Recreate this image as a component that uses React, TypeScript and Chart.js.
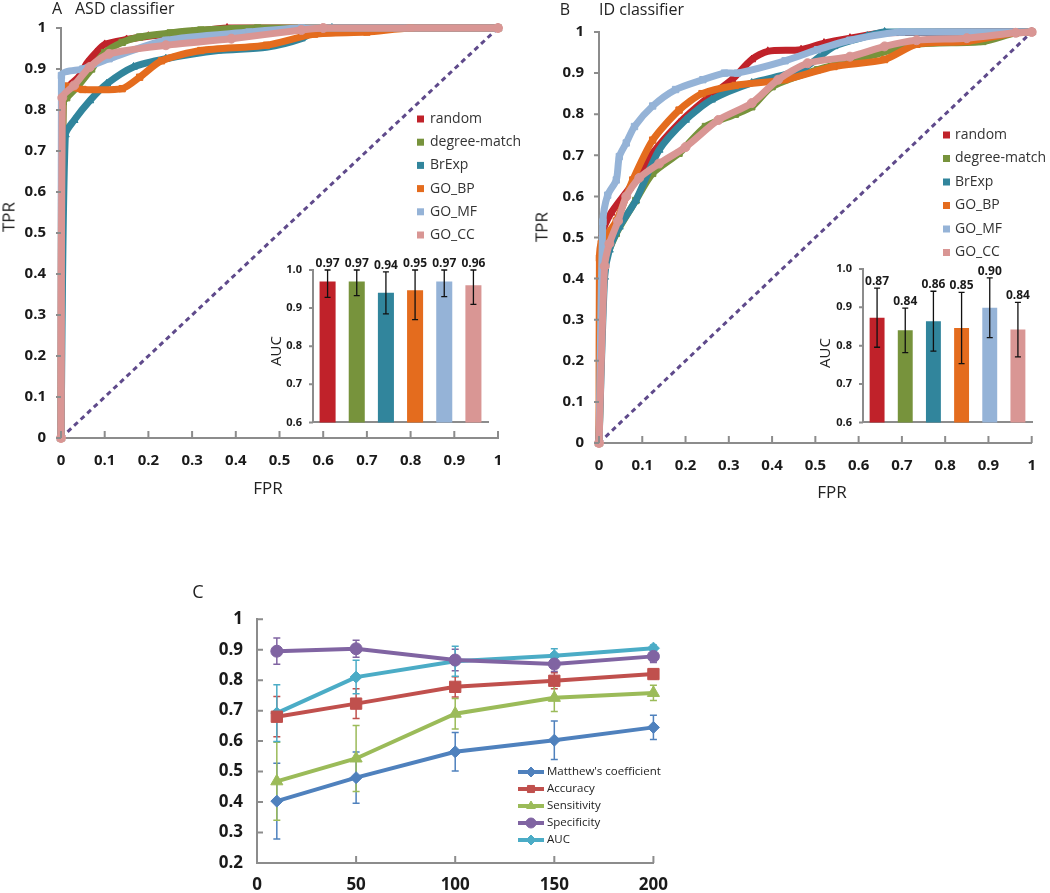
import React, { useEffect, useRef } from 'react';
import { Chart, registerables } from 'chart.js';
import { drawPoint } from 'chart.js/helpers';

Chart.register(...registerables);

const FONT = '"Open Sans", "DejaVu Sans", sans-serif';

// ---------- ROC series (FPR, TPR) ----------
const rocNames = ['random', 'degree-match', 'BrExp', 'GO_BP', 'GO_MF', 'GO_CC'];
const rocColors = ['#C0222A', '#77933C', '#31859C', '#E46C1E', '#95B3D7', '#D99694'];
const rocMarkers = ['triangle', 'rect', 'triangle', 'rect', 'rect', 'circle'];

const asdRandom = [[0, 0], [0.005, 0.83], [0.02, 0.86], [0.04, 0.88], [0.06, 0.915], [0.08, 0.94], [0.1, 0.96], [0.15, 0.972], [0.2, 0.98], [0.3, 0.99], [0.38, 1], [1, 1]];
const asdDegree = [[0, 0], [0.005, 0.82], [0.013, 0.83], [0.04, 0.86], [0.07, 0.9], [0.1, 0.94], [0.14, 0.965], [0.18, 0.978], [0.25, 0.988], [0.32, 0.995], [0.45, 1], [1, 1]];
const asdBrExp = [[0, 0], [0.01, 0.74], [0.03, 0.775], [0.066, 0.823], [0.105, 0.864], [0.166, 0.905], [0.24, 0.925], [0.36, 0.945], [0.47, 0.953], [0.55, 0.974], [0.585, 0.995], [0.62, 1], [1, 1]];
const asdGoBp = [[0, 0], [0.002, 0.855], [0.05, 0.85], [0.14, 0.852], [0.18, 0.88], [0.23, 0.92], [0.32, 0.945], [0.47, 0.958], [0.58, 0.985], [0.7, 0.99], [0.8, 1], [1, 1]];
const asdGoMf = [[0, 0], [0.001, 0.884], [0.05, 0.9], [0.11, 0.925], [0.24, 0.97], [0.43, 0.99], [0.55, 1], [1, 1]];
const asdGoCc = [[0, 0], [0.003, 0.83], [0.03, 0.86], [0.066, 0.905], [0.11, 0.937], [0.24, 0.958], [0.39, 0.974], [0.55, 0.995], [0.6, 1], [1, 1]];

const idRandom = [[0, 0], [0.009, 0.51], [0.028, 0.56], [0.07, 0.62], [0.124, 0.705], [0.185, 0.778], [0.246, 0.835], [0.307, 0.884], [0.353, 0.933], [0.39, 0.953], [0.467, 0.957], [0.52, 0.973], [0.58, 0.985], [0.66, 0.998], [1, 1]];
const idDegree = [[0, 0], [0.013, 0.43], [0.04, 0.51], [0.085, 0.59], [0.124, 0.656], [0.185, 0.705], [0.246, 0.77], [0.315, 0.8], [0.353, 0.818], [0.4, 0.867], [0.505, 0.908], [0.62, 0.94], [0.734, 0.97], [0.887, 0.977], [0.963, 0.998], [1, 1]];
const idBrExp = [[0, 0], [0.013, 0.404], [0.024, 0.47], [0.047, 0.526], [0.085, 0.59], [0.139, 0.713], [0.2, 0.786], [0.26, 0.835], [0.353, 0.876], [0.467, 0.908], [0.543, 0.965], [0.62, 0.99], [0.66, 1], [1, 1]];
const idGoBp = [[0, 0], [0.001, 0.45], [0.005, 0.485], [0.04, 0.54], [0.078, 0.64], [0.124, 0.737], [0.185, 0.81], [0.238, 0.85], [0.315, 0.87], [0.43, 0.884], [0.543, 0.916], [0.66, 0.933], [0.734, 0.97], [0.85, 0.977], [0.963, 0.998], [1, 1]];
const idGoMf = [[0, 0], [0.009, 0.538], [0.02, 0.603], [0.04, 0.64], [0.047, 0.697], [0.063, 0.73], [0.082, 0.77], [0.124, 0.82], [0.177, 0.86], [0.24, 0.884], [0.29, 0.9], [0.32, 0.9], [0.43, 0.93], [0.505, 0.957], [0.58, 0.98], [0.7, 1], [1, 1]];
const idGoCc = [[0, 0], [0.013, 0.43], [0.024, 0.485], [0.044, 0.54], [0.063, 0.6], [0.093, 0.645], [0.139, 0.68], [0.2, 0.72], [0.276, 0.786], [0.353, 0.827], [0.414, 0.884], [0.482, 0.924], [0.58, 0.94], [0.66, 0.965], [0.734, 0.98], [0.85, 0.985], [0.963, 0.998], [1, 1]];

const diagonal = [[0, 0], [1, 1]];

const asdCurves = [asdRandom, asdDegree, asdBrExp, asdGoBp, asdGoMf, asdGoCc];
const idCurves = [idRandom, idDegree, idBrExp, idGoBp, idGoMf, idGoCc];

// ---------- AUC insets ----------
const asdAuc = [0.97, 0.97, 0.94, 0.947, 0.97, 0.96];
const asdAucErr = [0.042, 0.037, 0.055, 0.077, 0.04, 0.05];
const idAuc = [0.873, 0.84, 0.864, 0.846, 0.899, 0.842];
const idAucErr = [0.077, 0.058, 0.078, 0.093, 0.078, 0.071];

// ---------- Panel C ----------
const cX = [10, 50, 100, 150, 200];
const cNames = ["Matthew's coefficient", 'Accuracy', 'Sensitivity', 'Specificity', 'AUC'];
const cColors = ['#4F81BD', '#C0504D', '#9BBB59', '#8064A2', '#4BACC6'];
const cMarkers = ['rectRot', 'rect', 'triangle', 'circle', 'rectRot'];
const cMatthew = [0.403, 0.48, 0.565, 0.603, 0.645];
const cMatthewErr = [0.124, 0.084, 0.063, 0.063, 0.04];
const cAccuracy = [0.68, 0.723, 0.778, 0.798, 0.82];
const cAccuracyErr = [0.066, 0.049, 0.033, 0.026, 0.016];
const cSensitivity = [0.468, 0.543, 0.69, 0.742, 0.758];
const cSensitivityErr = [0.128, 0.108, 0.05, 0.045, 0.025];
const cSpecificity = [0.895, 0.903, 0.866, 0.853, 0.878];
const cSpecificityErr = [0.043, 0.028, 0.035, 0.025, 0.02];
const cAucVals = [0.692, 0.81, 0.862, 0.88, 0.905];
const cAucErr = [0.093, 0.055, 0.049, 0.023, 0.01];
const cSeries = [cMatthew, cAccuracy, cSensitivity, cSpecificity, cAucVals];
const cErrors = [cMatthewErr, cAccuracyErr, cSensitivityErr, cSpecificityErr, cAucErr];

// ---------- plugins ----------
const AXIS = '#8C8C8C';
const TXT = '#1a1a1a';

const tickMarksPlugin = {
  id: 'tickMarks',
  afterDatasetsDraw(chart: any, _a: any, opts: any) {
    const ctx = chart.ctx;
    ctx.save();
    ctx.strokeStyle = AXIS;
    ctx.lineWidth = 2;
    ['x', 'y'].forEach((id) => {
      const o = opts[id];
      if (!o || !o.len) return;
      const s = chart.scales[id];
      ctx.beginPath();
      s.ticks.forEach((_t: any, i: number) => {
        const p = s.getPixelForTick(i);
        if (id === 'x') {
          const y0 = s.top;
          ctx.moveTo(p, y0);
          ctx.lineTo(p, o.dir === 'in' ? y0 - o.len : y0 + o.len);
        } else {
          const x0 = s.right;
          ctx.moveTo(x0, p);
          ctx.lineTo(o.dir === 'in' ? x0 + o.len : x0 - o.len, p);
        }
      });
      ctx.stroke();
    });
    ctx.restore();
  },
};

function drawErrors(chart: any, opts: any) {
  const ctx = chart.ctx;
  const ys = chart.scales.y;
  const area = chart.chartArea;
  chart.data.datasets.forEach((ds: any, di: number) => {
    const errs = ds.errors;
    if (!errs) return;
    const meta = chart.getDatasetMeta(di);
    ctx.save();
    ctx.strokeStyle = opts.color || ds.borderColor;
    ctx.lineWidth = opts.width || 1.2;
    meta.data.forEach((el: any, i: number) => {
      const raw = ds.data[i];
      const val = typeof raw === 'number' ? raw : raw.y;
      let top = ys.getPixelForValue(val + errs[i]);
      let bot = ys.getPixelForValue(val - errs[i]);
      top = Math.max(top, area.top);
      bot = Math.min(bot, area.bottom);
      const x = el.x;
      const c = opts.cap || 3;
      ctx.beginPath();
      ctx.moveTo(x, top);
      ctx.lineTo(x, bot);
      ctx.moveTo(x - c, top);
      ctx.lineTo(x + c, top);
      ctx.moveTo(x - c, bot);
      ctx.lineTo(x + c, bot);
      ctx.stroke();
      if (opts.labels) {
        ctx.fillStyle = TXT;
        ctx.font = opts.labelFont;
        ctx.textAlign = 'center';
        ctx.textBaseline = 'alphabetic';
        ctx.fillText(val.toFixed(2), x, top - 3);
      }
    });
    ctx.restore();
  });
}

const errorBarsPlugin = {
  id: 'errorBars',
  beforeDatasetsDraw(chart: any, _a: any, opts: any) {
    if (opts.behind) drawErrors(chart, opts);
  },
  afterDatasetsDraw(chart: any, _a: any, opts: any) {
    if (!opts.behind) drawErrors(chart, opts);
  },
};

const legendPlugin = {
  id: 'customLegend',
  afterDraw(chart: any, _a: any, opts: any) {
    if (!opts.kind) return;
    const ctx = chart.ctx;
    const items = chart.data.datasets.filter((d: any) => d.label && !d.noLegend);
    ctx.save();
    items.forEach((ds: any, i: number) => {
      const y = opts.y + i * opts.spacing;
      if (opts.kind === 'square') {
        ctx.fillStyle = ds.borderColor;
        ctx.fillRect(opts.x, y - opts.size / 2, opts.size, opts.size);
      } else {
        ctx.strokeStyle = ds.borderColor;
        ctx.lineWidth = 4;
        ctx.beginPath();
        ctx.moveTo(opts.x, y);
        ctx.lineTo(opts.x + opts.lineLen, y);
        ctx.stroke();
        ctx.fillStyle = ds.borderColor;
        ctx.lineWidth = 1;
        drawPoint(ctx, { pointStyle: ds.pointStyle, radius: opts.size, rotation: 0, borderWidth: 1 }, opts.x + opts.lineLen / 2, y);
      }
      ctx.fillStyle = opts.textColor;
      ctx.font = opts.font;
      ctx.textAlign = 'left';
      ctx.textBaseline = 'middle';
      ctx.fillText(ds.label, opts.textX, y);
    });
    ctx.restore();
  },
};

const fmt1 = (v: any) => String(+Number(v).toFixed(1));

// ---------- chart builders ----------
function rocConfig(curves: number[][][], g: any, legend: any) {
  const datasets: any[] = curves.map((c, i) => ({
    label: rocNames[i],
    data: c.map(([x, y]) => ({ x, y })),
    borderColor: rocColors[i],
    backgroundColor: rocColors[i],
    pointStyle: rocMarkers[i],
    pointRadius: 4.5,
    pointHoverRadius: 4.5,
    pointBorderWidth: 1,
    borderWidth: 7,
    tension: 0.25,
    order: 10 - i,
    clip: false,
  }));
  datasets.push({
    label: 'diagonal',
    noLegend: true,
    data: diagonal.map(([x, y]) => ({ x, y })),
    borderColor: '#5F4A8B',
    borderWidth: 3,
    borderDash: [5, 4],
    pointRadius: 0,
    order: 20,
  });
  return {
    type: 'line',
    data: { datasets },
    plugins: [tickMarksPlugin, legendPlugin],
    options: {
      responsive: false,
      animation: false,
      events: [],
      layout: { padding: g.padding },
      plugins: {
        legend: { display: false },
        tooltip: { enabled: false },
        tickMarks: { x: { dir: 'in', len: 7 }, y: { dir: 'out', len: 5 } },
        customLegend: legend,
      },
      scales: {
        x: {
          type: 'linear',
          min: 0,
          max: 1,
          ticks: { stepSize: 0.1, autoSkip: false, maxRotation: 0, padding: 14, color: TXT, font: { family: FONT, size: 15, weight: 'bold' }, callback: fmt1 },
          grid: { display: false, drawTicks: false },
          border: { display: true, color: AXIS, width: 2 },
          afterFit: (s: any) => { s.height = g.xHeight; },
        },
        y: {
          type: 'linear',
          min: 0,
          max: 1,
          ticks: { stepSize: 0.1, autoSkip: false, padding: 15, color: TXT, font: { family: FONT, size: 15, weight: 'bold' }, callback: fmt1 },
          grid: { display: false, drawTicks: false },
          border: { display: true, color: AXIS, width: 2 },
          afterFit: (s: any) => { s.width = g.yWidth; },
        },
      },
    },
  };
}

function insetConfig(values: number[], errs: number[], g: any) {
  return {
    type: 'bar',
    data: {
      labels: rocNames,
      datasets: [{
        label: 'AUC',
        data: values,
        errors: errs,
        backgroundColor: rocColors,
        barPercentage: g.bar,
        categoryPercentage: 1,
      }],
    },
    plugins: [tickMarksPlugin, errorBarsPlugin],
    options: {
      responsive: false,
      animation: false,
      events: [],
      layout: { padding: g.padding },
      plugins: {
        legend: { display: false },
        tooltip: { enabled: false },
        tickMarks: { y: { dir: 'out', len: 4 } },
        errorBars: { color: '#111', width: 1.3, cap: 3, labels: true, labelFont: `bold 12px ${FONT}` },
      },
      scales: {
        x: {
          type: 'category',
          offset: true,
          ticks: { display: false },
          grid: { display: false, drawTicks: false },
          border: { display: true, color: AXIS, width: 2 },
          afterFit: (s: any) => { s.height = 0; },
        },
        y: {
          min: 0.6,
          max: 1.0,
          ticks: { stepSize: 0.1, padding: 11, color: TXT, font: { family: FONT, size: 11, weight: 'bold' }, callback: (v: any) => Number(v).toFixed(1) },
          grid: { display: false, drawTicks: false },
          border: { display: true, color: AXIS, width: 2 },
          afterFit: (s: any) => { s.width = g.yWidth; },
        },
      },
    },
  };
}

function cConfig() {
  const datasets = cSeries.map((vals, i) => ({
    label: cNames[i],
    data: vals.map((v, j) => ({ x: cX[j], y: v })),
    errors: cErrors[i],
    borderColor: cColors[i],
    backgroundColor: cColors[i],
    pointStyle: cMarkers[i],
    pointRadius: cMarkers[i] === 'rect' ? 8 : cMarkers[i] === 'triangle' ? 7 : 6,
    pointHoverRadius: 6,
    pointBorderWidth: 1,
    borderWidth: 4,
    tension: 0,
    clip: false,
  }));
  return {
    type: 'line',
    data: { datasets },
    plugins: [tickMarksPlugin, errorBarsPlugin, legendPlugin],
    options: {
      responsive: false,
      animation: false,
      events: [],
      layout: { padding: { left: 0, top: 20, right: 26, bottom: 0 } },
      plugins: {
        legend: { display: false },
        tooltip: { enabled: false },
        tickMarks: { x: { dir: 'in', len: 7 }, y: { dir: 'in', len: 6 } },
        errorBars: { behind: true, width: 1.5, cap: 3.5 },
        customLegend: { kind: 'line', x: 338, lineLen: 26, textX: 367, y: 177, spacing: 17, size: 5, font: `11.5px ${FONT}`, textColor: '#222' },
      },
      scales: {
        x: {
          type: 'linear',
          min: 0,
          max: 200,
          ticks: { stepSize: 50, autoSkip: false, maxRotation: 0, padding: 12, color: TXT, font: { family: FONT, size: 17, weight: 'bold' } },
          grid: { display: false, drawTicks: false },
          border: { display: true, color: AXIS, width: 2 },
          afterFit: (s: any) => { s.height = 30; },
        },
        y: {
          type: 'linear',
          min: 0.2,
          max: 1,
          ticks: { stepSize: 0.1, autoSkip: false, padding: 14, color: TXT, font: { family: FONT, size: 17, weight: 'bold' }, callback: fmt1 },
          grid: { display: false, drawTicks: false },
          border: { display: true, color: AXIS, width: 2 },
          afterFit: (s: any) => { s.width = 77; },
        },
      },
    },
  };
}

// ---------- components ----------
function ChartCanvas({ left, top, width, height, make }: any) {
  const ref = useRef<HTMLCanvasElement | null>(null);
  useEffect(() => {
    const chart = new Chart(ref.current as HTMLCanvasElement, make() as any);
    return () => chart.destroy();
  }, []);
  return (
    <canvas
      ref={ref}
      width={width}
      height={height}
      style={{ position: 'absolute', left, top, width, height }}
    />
  );
}

function Label({ x, y, text, size, rotate, align = 'center' }: any) {
  const tx = align === 'center' ? '-50%' : '0';
  return (
    <div
      style={{
        position: 'absolute',
        left: x,
        top: y,
        transform: `translate(${tx},-50%)${rotate ? ` rotate(${rotate}deg)` : ''}`,
        fontFamily: FONT,
        fontSize: size,
        color: '#222',
        whiteSpace: 'nowrap',
        lineHeight: 'normal',
      }}
    >
      {text}
    </div>
  );
}

export default function App() {
  return (
    <div style={{ position: 'absolute', left: 0, top: 0, width: 1050, height: 893, background: '#fff', overflow: 'hidden' }}>
      <ChartCanvas
        left={0} top={0} width={525} height={500}
        make={() => rocConfig(asdCurves, { padding: { left: 0, top: 28, right: 27, bottom: 12 }, xHeight: 50, yWidth: 61 },
          { kind: 'square', x: 417, textX: 430, y: 119, spacing: 23.2, size: 7, font: `14px ${FONT}`, textColor: '#333' })}
      />
      <ChartCanvas
        left={525} top={0} width={525} height={510}
        make={() => rocConfig(idCurves, { padding: { left: 0, top: 32, right: 13, bottom: 17 }, xHeight: 50, yWidth: 74 },
          { kind: 'square', x: 418, textX: 430, y: 135, spacing: 23.5, size: 7, font: `14px ${FONT}`, textColor: '#333' })}
      />
      <ChartCanvas
        left={255} top={240} width={240} height={200}
        make={() => insetConfig(asdAuc, asdAucErr, { padding: { left: 0, top: 30, right: 7, bottom: 8 }, yWidth: 58, bar: 0.55 })}
      />
      <ChartCanvas
        left={800} top={240} width={250} height={200}
        make={() => insetConfig(idAuc, idAucErr, { padding: { left: 0, top: 29, right: 18, bottom: 4 }, yWidth: 63, bar: 0.53 })}
      />
      <ChartCanvas left={180} top={595} width={500} height={298} make={cConfig} />

      <Label x={57} y={8} text="A" size={16} />
      <Label x={75} y={8} text="ASD classifier" size={16} align="left" />
      <Label x={8} y={217} text="TPR" size={17} rotate={-90} />
      <Label x={268} y={487} text="FPR" size={17} />
      <Label x={275} y={351} text="AUC" size={15} rotate={-90} />

      <Label x={565} y={9} text="B" size={16} />
      <Label x={599} y={9} text="ID classifier" size={16} align="left" />
      <Label x={541} y={227} text="TPR" size={17} rotate={-90} />
      <Label x={832} y={491} text="FPR" size={17} />
      <Label x={824} y={353} text="AUC" size={15} rotate={-90} />

      <Label x={198} y={591} text="C" size={18} />
    </div>
  );
}
